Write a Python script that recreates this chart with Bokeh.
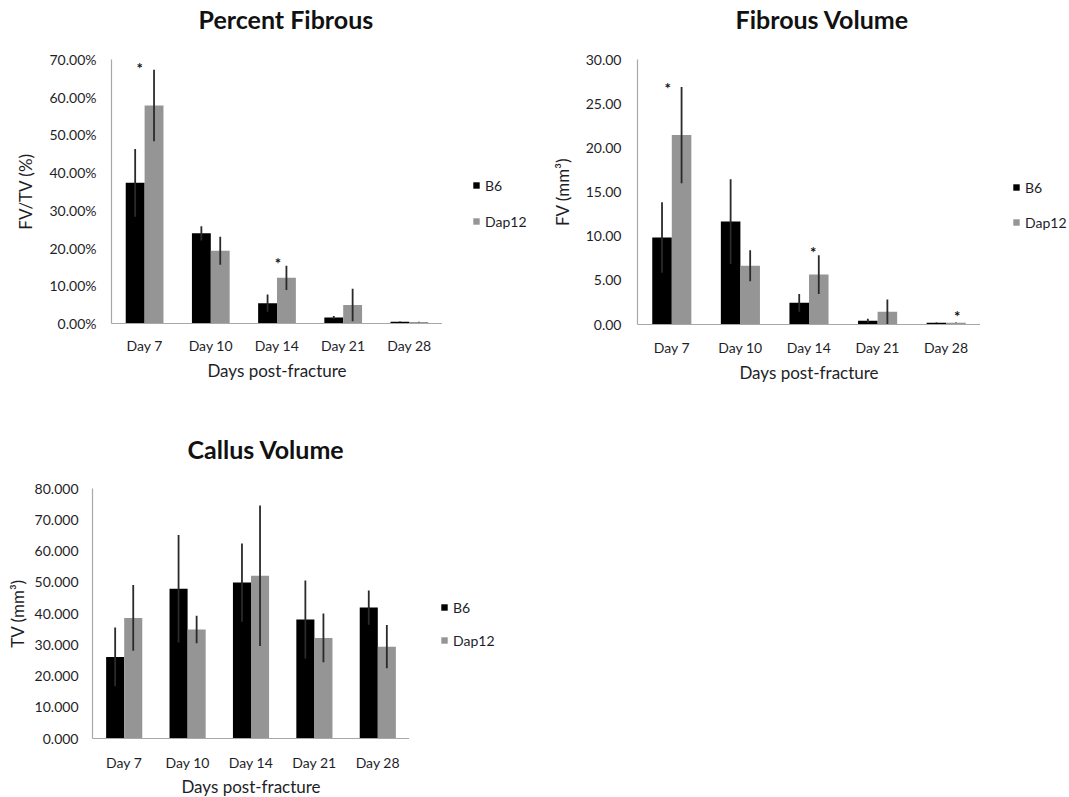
from bokeh.plotting import figure
from bokeh.models import (ColumnDataSource, FactorRange, Range1d, FixedTicker,
                          PrintfTickFormatter, Legend, LegendItem, Title)
from bokeh.transform import dodge
from bokeh.layouts import column, row
from bokeh.embed import file_html
from bokeh.resources import INLINE
from bokeh.core.properties import value

# ---------------- data ----------------
days = ["Day 7", "Day 10", "Day 14", "Day 21", "Day 28"]
groups = ["B6", "Dap12"]

pf_b6 = [37.3, 23.9, 5.4, 1.6, 0.45]
pf_b6_err = [9.0, 1.9, 2.3, 0.4, 0.05]
pf_dap = [57.8, 19.3, 12.1, 4.9, 0.4]
pf_dap_err = [9.5, 3.7, 3.2, 4.3, 0.05]
pf_star_days = ["Day 7", "Day 14"]
pf_star_y = [69.0, 17.5]
pf_ticks = [0, 10, 20, 30, 40, 50, 60, 70]

fv_b6 = [9.85, 11.65, 2.45, 0.42, 0.2]
fv_b6_err = [4.0, 4.8, 1.0, 0.22, 0.03]
fv_dap = [21.45, 6.65, 5.65, 1.43, 0.2]
fv_dap_err = [5.45, 1.75, 2.2, 1.4, 0.03]
fv_star_days = ["Day 7", "Day 14", "Day 28"]
fv_star_y = [27.3, 8.8, 1.55]
fv_ticks = [0, 5, 10, 15, 20, 25, 30]

tv_b6 = [26.1, 47.9, 49.9, 38.1, 41.9]
tv_b6_err = [9.4, 17.2, 12.5, 12.5, 5.5]
tv_dap = [38.6, 34.9, 52.1, 32.2, 29.4]
tv_dap_err = [10.5, 4.4, 22.5, 7.8, 6.9]
tv_star_days = []
tv_star_y = []
tv_ticks = [0, 10, 20, 30, 40, 50, 60, 70, 80]

FONT = "Lato"
BLACK = "#000000"
GRAY = "#959595"
ERR = "#2a2a2a"
AXIS = "#a8a8a8"
TXT = "#1e1e28"
BW = 0.285


def make_chart(title, ylabel, b6, b6e, dap, dape, ticks, fmt, star_days, star_y,
               star_off, fw, fh, bl, bt, bb, spacer, title_offset,
               tick_standoff, ylab_standoff, xtick_standoff, xlab_standoff):
    src = ColumnDataSource(dict(
        day=days,
        b6=b6, b6_lo=[v - e for v, e in zip(b6, b6e)], b6_hi=[v + e for v, e in zip(b6, b6e)],
        dap=dap, dap_lo=[v - e for v, e in zip(dap, dape)], dap_hi=[v + e for v, e in zip(dap, dape)],
    ))
    p = figure(x_range=FactorRange(*days, range_padding=0),
               y_range=Range1d(ticks[0], ticks[-1]),
               width=bl + fw, height=bt + fh + bb,
               frame_width=fw, frame_height=fh, output_backend="svg",
               toolbar_location=None, min_border_left=bl, min_border_right=0,
               min_border_top=bt, min_border_bottom=bb, title=None)
    p.outline_line_color = None
    p.xgrid.grid_line_color = None
    p.ygrid.grid_line_color = None
    p.background_fill_color = "white"
    p.border_fill_color = "white"

    # spacer title (nearest to frame), then real title above it
    p.add_layout(Title(text=" ", text_font_size="2px", standoff=spacer), "above")
    p.add_layout(Title(text=title, text_font=FONT, text_font_size="25px",
                       text_font_style="bold", text_color="#111111",
                       align="left", offset=title_offset, standoff=0), "above")

    p.vbar(x=dodge("day", -BW / 2, range=p.x_range), top="b6", width=BW,
           source=src, fill_color=BLACK, line_color=None)
    p.vbar(x=dodge("day", BW / 2, range=p.x_range), top="dap", width=BW,
           source=src, fill_color=GRAY, line_color=None)
    p.segment(x0=dodge("day", -BW / 2, range=p.x_range), y0="b6_lo",
              x1=dodge("day", -BW / 2, range=p.x_range), y1="b6_hi",
              source=src, line_color=ERR, line_width=1.8)
    p.segment(x0=dodge("day", BW / 2, range=p.x_range), y0="dap_lo",
              x1=dodge("day", BW / 2, range=p.x_range), y1="dap_hi",
              source=src, line_color=ERR, line_width=1.8)

    for d, y, off in zip(star_days, star_y, star_off):
        ssrc = ColumnDataSource(dict(day=[d], y=[y], t=["*"]))
        p.text(x=dodge("day", off, range=p.x_range), y="y", text="t", source=ssrc,
               text_font=value(FONT), text_font_style="bold", text_font_size="15px",
               text_align="center", text_baseline="middle", y_offset=5,
               text_color="#111111")

    for ax in (p.xaxis[0], p.yaxis[0]):
        ax.axis_line_color = AXIS
        ax.axis_line_width = 1.2
        ax.major_tick_line_color = None
        ax.minor_tick_line_color = None
        ax.major_tick_out = 0
        ax.major_tick_in = 0
        ax.major_label_text_font = FONT
        ax.major_label_text_font_size = "14px"
        ax.major_label_text_color = TXT
        ax.axis_label_text_font = FONT
        ax.axis_label_text_font_size = "17px"
        ax.axis_label_text_font_style = "normal"
        ax.axis_label_text_color = TXT

    p.yaxis.ticker = FixedTicker(ticks=ticks)
    p.yaxis.formatter = PrintfTickFormatter(format=fmt)
    p.yaxis.major_label_standoff = tick_standoff
    p.yaxis.axis_label = ylabel
    p.yaxis.axis_label_standoff = ylab_standoff
    p.xaxis.axis_label = "Days post-fracture"
    p.xaxis.major_label_standoff = xtick_standoff
    p.xaxis.axis_label_standoff = xlab_standoff
    return p


def make_legend(width, height, lx, ly, spacing):
    q = figure(width=width, height=height, x_range=Range1d(0, 1), y_range=Range1d(0, 1),
               output_backend="svg", toolbar_location=None,
               x_axis_location=None, y_axis_location=None,
               min_border_left=0, min_border_right=0, min_border_top=0, min_border_bottom=0)
    q.outline_line_color = None
    q.xgrid.grid_line_color = None
    q.ygrid.grid_line_color = None
    # keys only: one out-of-view entry per group so the legend swatches are drawn
    key = ColumnDataSource(dict(x=[5.0], top=[0.0]))
    g1 = q.vbar(x="x", top="top", width=0.1, source=key, fill_color=BLACK, line_color=None)
    g2 = q.vbar(x="x", top="top", width=0.1, source=key, fill_color=GRAY, line_color=None)
    legend = Legend(items=[LegendItem(label=groups[0], renderers=[g1]),
                           LegendItem(label=groups[1], renderers=[g2])],
                    location=(lx, ly), orientation="vertical",
                    glyph_width=8, glyph_height=8, label_standoff=5,
                    spacing=spacing, padding=0, margin=0,
                    border_line_color=None, background_fill_alpha=0,
                    label_text_font=FONT, label_text_font_size="14px",
                    label_text_color=TXT, label_height=20)
    q.add_layout(legend, "center")
    return q


p1 = make_chart("Percent Fibrous", "FV/TV (%)", pf_b6, pf_b6_err, pf_dap, pf_dap_err,
                pf_ticks, "%.2f%%", pf_star_days, pf_star_y, [-0.075, 0.015],
                fw=331, fh=264, bl=111, bt=59, bb=105, spacer=22, title_offset=87,
                tick_standoff=15, ylab_standoff=10, xtick_standoff=13, xlab_standoff=3)
l1 = make_legend(98, 428, 30, 92, 16)

p2 = make_chart("Fibrous Volume", "FV (mm³)", fv_b6, fv_b6_err, fv_dap, fv_dap_err,
                fv_ticks, "%.2f", fv_star_days, fv_star_y, [-0.06, 0.06, 0.16],
                fw=343, fh=265, bl=97, bt=59, bb=104, spacer=22, title_offset=98,
                tick_standoff=16, ylab_standoff=10, xtick_standoff=14, xlab_standoff=3)
l2 = make_legend(89, 428, 32, 91, 15)

p3 = make_chart("Callus Volume", "TV (mm³)", tv_b6, tv_b6_err, tv_dap, tv_dap_err,
                tv_ticks, "%.3f", tv_star_days, tv_star_y, [],
                fw=317, fh=250, bl=92, bt=60, bb=59, spacer=21, title_offset=95,
                tick_standoff=14, ylab_standoff=4, xtick_standoff=15, xlab_standoff=2)
l3 = make_legend(150, 369, 31, 86, 13)

layout = column(row(p1, l1, p2, l2), row(p3, l3))
open("out.html", "w").write(file_html(layout, INLINE))
